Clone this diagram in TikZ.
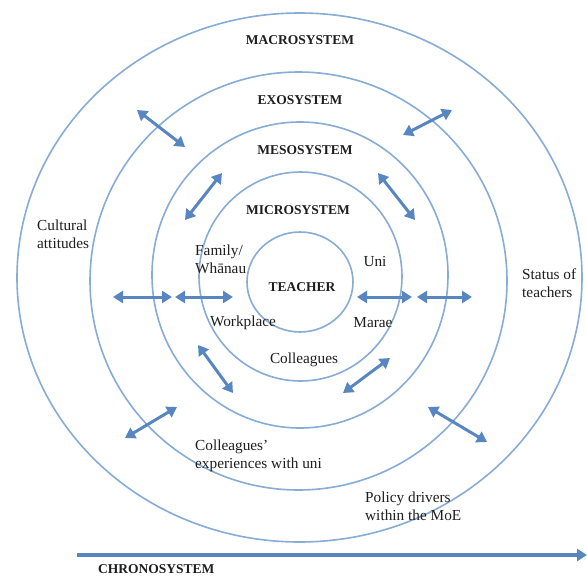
\documentclass[tikz,border=0pt]{standalone}
\usepackage{fontspec}
\setmainfont{Liberation Serif}
\usetikzlibrary{arrows.meta}
\definecolor{circc}{RGB}{135,172,214}
\definecolor{arrc}{RGB}{88,134,192}
\definecolor{txtc}{RGB}{30,30,30}
\begin{document}
\begin{tikzpicture}[x=1pt,y=-1pt,
  ring/.style={draw=circc, line width=1.6pt},
  biarrow/.style={draw=arrc, line width=3pt, {Triangle[length=10pt,width=12pt]}-{Triangle[length=10pt,width=12pt]}},
  sysname/.style={font=\bfseries\fontsize{13.5}{16}\selectfont, text=txtc, inner sep=0pt},
  lbl/.style={font=\fontsize{15.3}{18}\selectfont, text=txtc, inner sep=0pt, align=left}]
\useasboundingbox (0,0) rectangle (587,576);
\fill[white] (0,0) rectangle (587,576);

% rings
\draw[ring] (300,282) ellipse [x radius=53pt, y radius=50pt];
\draw[ring] (300.5,276.5) ellipse [x radius=101.5pt, y radius=104.5pt];
\draw[ring] (300,275) ellipse [x radius=148pt, y radius=153pt];
\draw[ring] (298.5,281) ellipse [x radius=208.5pt, y radius=209pt];
\draw[ring] (299.5,277.5) ellipse [x radius=282.5pt, y radius=264.5pt];

% system names
\node[sysname] (macro) at (300,40) {MACROSYSTEM};
\node[sysname] (exo) at (300,100) {EXOSYSTEM};
\node[sysname] (meso) at (305,150) {MESOSYSTEM};
\node[sysname] (micro) at (298,210) {MICROSYSTEM};
\node[sysname] (teacher) at (302,287) {TEACHER};
\node[sysname, anchor=west] (chrono) at (98,569) {CHRONOSYSTEM};

% labels
\node[lbl, anchor=west] (family) at (195,259) {Family/\\Whānau};
\node[lbl] (uni) at (375,262) {Uni};
\node[lbl] (work) at (243,323) {Workplace};
\node[lbl] (marae) at (373,323) {Marae};
\node[lbl] (coll) at (304,360) {Colleagues};
\node[lbl, anchor=west] (cult) at (37,234) {Cultural\\attitudes};
\node[lbl, anchor=west] (status) at (522,283) {Status of\\teachers};
\node[lbl, anchor=west] (collexp) at (195,456) {Colleagues’\\experiences with uni};
\node[lbl, anchor=west] (policy) at (365,506) {Policy drivers\\within the MoE};

% arrow end points
\coordinate (h1a) at (113,297); \coordinate (h1b) at (172,297);
\coordinate (h2a) at (175,297); \coordinate (h2b) at (233,297);
\coordinate (h3a) at (357,297); \coordinate (h3b) at (412,297);
\coordinate (h4a) at (417,297); \coordinate (h4b) at (472,297);
\coordinate (da1) at (137,110); \coordinate (da2) at (185,147);
\coordinate (db1) at (222,173); \coordinate (db2) at (185,220);
\coordinate (dc1) at (452,110); \coordinate (dc2) at (403,135);
\coordinate (dd1) at (378,173); \coordinate (dd2) at (415,220);
\coordinate (de1) at (198,345); \coordinate (de2) at (233,393);
\coordinate (df1) at (177,407); \coordinate (df2) at (125,438);
\coordinate (dg1) at (390,358); \coordinate (dg2) at (343,393);
\coordinate (dh1) at (428,407); \coordinate (dh2) at (487,442);
\coordinate (ch1) at (77,555); \coordinate (ch2) at (587,555);

\draw[biarrow] (h1a) -- (h1b);
\draw[biarrow] (h2a) -- (h2b);
\draw[biarrow] (h3a) -- (h3b);
\draw[biarrow] (h4a) -- (h4b);
\draw[biarrow] (da1) -- (da2);
\draw[biarrow] (db1) -- (db2);
\draw[biarrow] (dc1) -- (dc2);
\draw[biarrow] (dd1) -- (dd2);
\draw[biarrow] (de1) -- (de2);
\draw[biarrow] (df1) -- (df2);
\draw[biarrow] (dg1) -- (dg2);
\draw[biarrow] (dh1) -- (dh2);
\draw[draw=arrc, line width=3.4pt, -{Triangle[length=10pt,width=12pt]}] (ch1) -- (ch2);
\end{tikzpicture}
\end{document}
